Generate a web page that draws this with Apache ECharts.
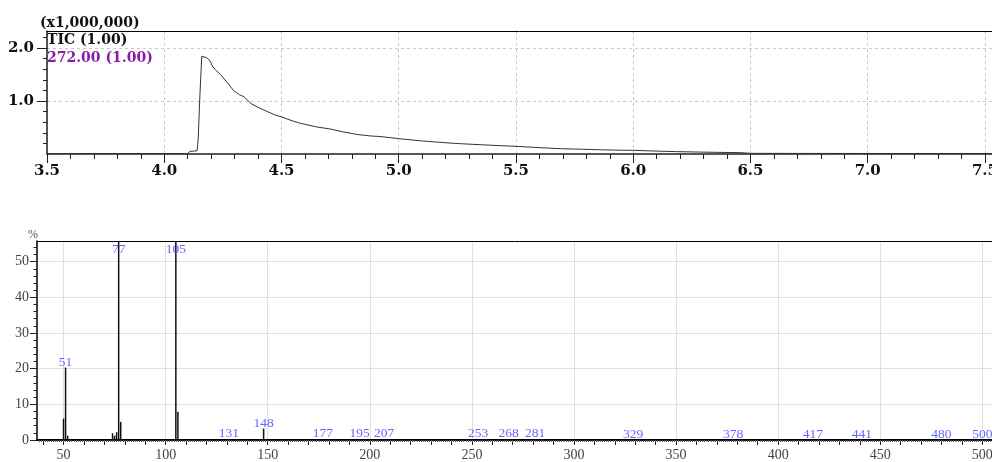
<!DOCTYPE html>
<html>
<head>
<meta charset="utf-8">
<script src="https://cdn.jsdelivr.net/npm/echarts@6/dist/echarts.min.js"></script>
<style>
html,body{margin:0;padding:0;background:#fff;}
#c{width:992px;height:462px;}
</style>
</head>
<body>
<div id="c"></div>
<script>
// ---- TIC chromatogram (time in min, intensity in x1,000,000) ----
const ticTime = [3.50, 3.78, 4.02, 4.10, 4.11, 4.14, 4.145, 4.152, 4.160, 4.166, 4.18, 4.195, 4.205, 4.22, 4.24, 4.27, 4.295, 4.32, 4.34, 4.37, 4.40, 4.43, 4.47, 4.50, 4.55, 4.58, 4.65, 4.71, 4.76, 4.82, 4.88, 4.92, 5.00, 5.09, 5.175, 5.26, 5.35, 5.42, 5.50, 5.60, 5.69, 5.78, 5.86, 5.96, 6.00, 6.08, 6.18, 6.30, 6.46, 6.50, 7.00, 7.53];
const ticValue = [0.005, 0.008, 0.008, 0.010, 0.05, 0.06, 0.30, 1.10, 1.84, 1.87, 1.82, 1.76, 1.66, 1.58, 1.50, 1.34, 1.20, 1.12, 1.08, 0.95, 0.88, 0.82, 0.74, 0.70, 0.62, 0.58, 0.51, 0.47, 0.42, 0.37, 0.34, 0.33, 0.29, 0.25, 0.22, 0.195, 0.175, 0.16, 0.145, 0.12, 0.10, 0.09, 0.08, 0.07, 0.07, 0.057, 0.045, 0.035, 0.025, 0.012, 0.010, 0.010];
const ticXTicks = [3.5, 4.0, 4.5, 5.0, 5.5, 6.0, 6.5, 7.0, 7.5];
const ticYTicks = [1.0, 2.0];

// ---- Mass spectrum (m/z, relative intensity %) ----
const msMz = [50, 51, 52, 53, 74, 75, 76, 77, 78, 105, 106, 131, 148, 177, 195, 207, 253, 268, 281, 329, 378, 417, 441, 480, 500];
const msInt = [6.0, 20.3, 1.2, 0.3, 1.9, 1.2, 2.2, 100, 5.1, 100, 7.9, 0.3, 3.2, 0.3, 0.2, 0.2, 0.2, 0.2, 0.2, 0.1, 0.1, 0.1, 0.1, 0.1, 0.1];
const msLabeled = [51, 77, 105, 131, 148, 177, 195, 207, 253, 268, 281, 329, 378, 417, 441, 480, 500];
const msXTicks = [50, 100, 150, 200, 250, 300, 350, 400, 450, 500];
const msYTicks = [0, 10, 20, 30, 40, 50];

const TOP_X_MIN = 3.5, TOP_X_MAX = 7.53, TOP_Y_MAX = 2.32;
const MS_X_MIN = 37, MS_X_MAX = 504.75, MS_Y_MAX = 55.8, LABEL_CAP = 51.9;

function range(a, b, step, dec) {
  const out = [];
  for (let v = a; v <= b + 1e-9; v += step) out.push(Math.round(v * Math.pow(10, dec)) / Math.pow(10, dec));
  return out;
}
const topMinorX = range(3.5, 7.5, 0.1, 1);
const topMinorY = range(0.2, 2.2, 0.2, 1);
const msTensX = range(40, 500, 10, 0);
const msOnesX = range(38, 504, 1, 0);
const msMinorY = range(2, 54, 2, 0);

const ticData = ticTime.map((t, i) => [t, ticValue[i]]);
const msData = msMz.map((m, i) => [m, msInt[i]]);
const labelData = msLabeled.map(m => {
  const v = msInt[msMz.indexOf(m)];
  return [m, Math.min(v, LABEL_CAP)];
});

const boldSerif = '"DejaVu Serif", serif';
const serif = '"Liberation Serif", "DejaVu Serif", serif';
const off = {show: false};

const chart = echarts.init(document.getElementById('c'), null, {renderer: 'canvas'});
chart.setOption({
  animation: false,
  backgroundColor: '#fff',
  grid: [
    {left: 47, right: 0, top: 31, bottom: 308, containLabel: false, outerBoundsMode: 'none'},
    {left: 37, right: 0, top: 241, bottom: 22, containLabel: false, outerBoundsMode: 'none'}
  ],
  xAxis: [
    { // 0: top main
      type: 'value', gridIndex: 0, min: TOP_X_MIN, max: TOP_X_MAX, position: 'bottom',
      axisLine: {onZero: false, lineStyle: {color: '#222', width: 1.5}},
      axisTick: {customValues: ticXTicks, length: 9, lineStyle: {color: '#222'}},
      axisLabel: {customValues: ticXTicks, formatter: v => v.toFixed(1), margin: 10,
        fontFamily: boldSerif, fontWeight: 'bold', fontSize: 15, color: '#111'},
      splitLine: {show: true, lineStyle: {color: '#c8c8c8', type: [3, 3]}}
    },
    { // 1: top minor ticks
      type: 'value', gridIndex: 0, min: TOP_X_MIN, max: TOP_X_MAX, position: 'bottom',
      axisLine: {show: false, onZero: false},
      axisTick: {customValues: topMinorX, length: 5, lineStyle: {color: '#222'}},
      axisLabel: off, splitLine: off
    },
    { // 2: top border
      type: 'value', gridIndex: 0, min: TOP_X_MIN, max: TOP_X_MAX, position: 'top',
      axisLine: {onZero: false, lineStyle: {color: '#000', width: 1}},
      axisTick: off, axisLabel: off, splitLine: off
    },
    { // 3: ms main
      type: 'value', gridIndex: 1, min: MS_X_MIN, max: MS_X_MAX, position: 'bottom',
      axisLine: {onZero: false, lineStyle: {color: '#000', width: 2}},
      axisTick: {customValues: msTensX, length: 5, lineStyle: {color: '#222'}},
      axisLabel: {customValues: msXTicks, margin: 8, fontFamily: serif, fontSize: 14, color: '#444'},
      splitLine: off
    },
    { // 4: ms tiny ticks
      type: 'value', gridIndex: 1, min: MS_X_MIN, max: MS_X_MAX, position: 'bottom',
      axisLine: {show: false, onZero: false},
      axisTick: {customValues: msOnesX, length: 2, lineStyle: {color: '#555'}},
      axisLabel: off, splitLine: off
    },
    { // 5: ms vertical grid lines
      type: 'value', gridIndex: 1, min: MS_X_MIN, max: MS_X_MAX, position: 'bottom',
      axisLine: {show: false, onZero: false},
      axisTick: {show: false, customValues: msXTicks},
      axisLabel: off,
      splitLine: {show: true, lineStyle: {color: '#e0e0e0', width: 1}}
    },
    { // 6: ms top border
      type: 'value', gridIndex: 1, min: MS_X_MIN, max: MS_X_MAX, position: 'top',
      axisLine: {onZero: false, lineStyle: {color: '#000', width: 1}},
      axisTick: off, axisLabel: off, splitLine: off
    }
  ],
  yAxis: [
    { // 0: top main
      type: 'value', gridIndex: 0, min: 0, max: TOP_Y_MAX, position: 'left',
      axisLine: {show: true, onZero: false, lineStyle: {color: '#222', width: 1.5}},
      axisTick: {show: true, customValues: ticYTicks, length: 10, lineStyle: {color: '#222'}},
      axisLabel: {customValues: ticYTicks, formatter: v => v.toFixed(1), margin: 13,
        fontFamily: boldSerif, fontWeight: 'bold', fontSize: 15, color: '#111'},
      splitLine: {show: true, lineStyle: {color: '#c8c8c8', type: [3, 3]}}
    },
    { // 1: top minor ticks
      type: 'value', gridIndex: 0, min: 0, max: TOP_Y_MAX, position: 'left',
      axisLine: {show: false, onZero: false},
      axisTick: {show: true, customValues: topMinorY, length: 4, lineStyle: {color: '#222'}},
      axisLabel: off, splitLine: off
    },
    { // 2: ms main
      type: 'value', gridIndex: 1, min: 0, max: MS_Y_MAX, position: 'left',
      axisLine: {show: true, onZero: false, lineStyle: {color: '#000', width: 1.5}},
      axisTick: {show: true, customValues: msYTicks, length: 7, lineStyle: {color: '#222'}},
      axisLabel: {customValues: msYTicks, margin: 8, fontFamily: serif, fontSize: 14, color: '#444'},
      splitLine: {show: true, lineStyle: {color: '#e0e0e0', width: 1}}
    },
    { // 3: ms minor ticks
      type: 'value', gridIndex: 1, min: 0, max: MS_Y_MAX, position: 'left',
      axisLine: {show: false, onZero: false},
      axisTick: {show: true, customValues: msMinorY, length: 3.5, lineStyle: {color: '#222'}},
      axisLabel: off, splitLine: off
    }
  ],
  series: [
    {
      type: 'line', name: 'TIC', xAxisIndex: 0, yAxisIndex: 0, data: ticData,
      showSymbol: false, symbol: 'none', smooth: false,
      lineStyle: {color: '#333', width: 1}
    },
    {
      type: 'bar', name: 'MS', xAxisIndex: 3, yAxisIndex: 2, data: msData,
      barWidth: 1.5, itemStyle: {color: '#111'}
    },
    {
      type: 'scatter', name: 'labels', xAxisIndex: 3, yAxisIndex: 2, data: labelData,
      symbolSize: 1, itemStyle: {color: 'rgba(0,0,0,0)'},
      label: {show: true, position: 'top', distance: -2, formatter: p => String(p.value[0]),
        fontFamily: serif, fontSize: 13.5, color: '#4040ff'},
      z: 5
    }
  ],
  graphic: [
    {type: 'text', x: 40, y: 23, style: {text: '(x1,000,000)', font: 'bold 14px "DejaVu Serif"', fill: '#111', verticalAlign: 'middle'}},
    {type: 'text', x: 47, y: 40, style: {text: 'TIC (1.00)', font: 'bold 14px "DejaVu Serif"', fill: '#111', verticalAlign: 'middle'}},
    {type: 'text', x: 47, y: 58, style: {text: '272.00 (1.00)', font: 'bold 14px "DejaVu Serif"', fill: '#8a1aa8', verticalAlign: 'middle'}},
    {type: 'text', x: 28, y: 235, style: {text: '%', font: '12px "Liberation Serif"', fill: '#555', verticalAlign: 'middle'}}
  ]
});
</script>
</body>
</html>
